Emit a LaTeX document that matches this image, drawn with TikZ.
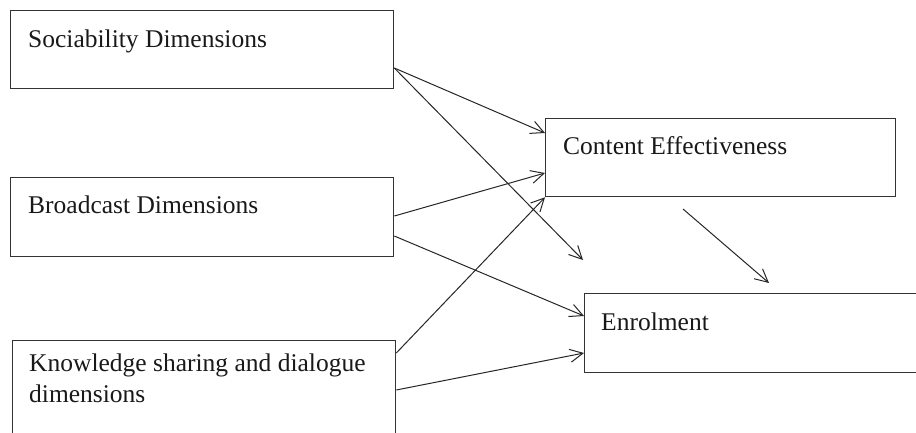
\documentclass[tikz,border=0pt]{standalone}
\usepackage{fontspec}
\setmainfont{Liberation Serif}
\usetikzlibrary{arrows.meta,calc}
\begin{document}
\begin{tikzpicture}[x=1pt,y=-1pt,
  box/.style={draw=black!80, line width=1.3pt, rectangle, inner sep=0pt, anchor=north west},
  txt/.style={inner sep=0pt, anchor=base west, align=left, text=black!90,
    font=\fontsize{25.5}{31}\selectfont},
  conn/.style={draw=black!85, line width=1pt, -{Straight Barb[length=13pt,width=13pt,line width=1pt]}}]
\useasboundingbox (0,0) rectangle (916,432);
\clip (0,0) rectangle (916,432);
% boxes
\node[box, minimum width=383pt, minimum height=78pt] (soc) at (10,10) {};
\node[box, minimum width=383pt, minimum height=79pt] (bro) at (10,177) {};
\node[box, minimum width=383pt, minimum height=110pt] (kno) at (12,340) {};
\node[box, minimum width=350pt, minimum height=78pt] (cont) at (545,118) {};
\node[box, minimum width=350pt, minimum height=79pt] (enr) at (584,293) {};
% texts
\node[txt] (soct) at (28,47) {Sociability Dimensions};
\node[txt] (brot) at (28,213) {Broadcast Dimensions};
\node[txt] (knot1) at (29,371) {Knowledge sharing and dialogue};
\node[txt] (knot2) at (29,402) {dimensions};
\node[txt] (contt) at (563,154) {Content Effectiveness};
\node[txt] (enrt) at (601,330) {Enrolment};
% free ends
\coordinate (e1) at (583,260);
\coordinate (c1) at (683,209);
\coordinate (e2) at (769,283);
% connectors
\draw[conn] ($(soc.north east)+(0,58)$) -- ($(cont.north west)+(0,15)$);
\draw[conn] ($(soc.north east)+(0,58)$) -- (e1);
\draw[conn] ($(bro.north east)+(0,39)$) -- ($(cont.north west)+(0,55)$);
\draw[conn] ($(bro.north east)+(0,59)$) -- ($(enr.north west)+(0,23)$);
\draw[conn] ($(kno.north east)+(0,13)$) -- (cont.south west);
\draw[conn] ($(kno.north east)+(0,50)$) -- ($(enr.north west)+(0,60)$);
\draw[conn] (c1) -- (e2);
\end{tikzpicture}
\end{document}
